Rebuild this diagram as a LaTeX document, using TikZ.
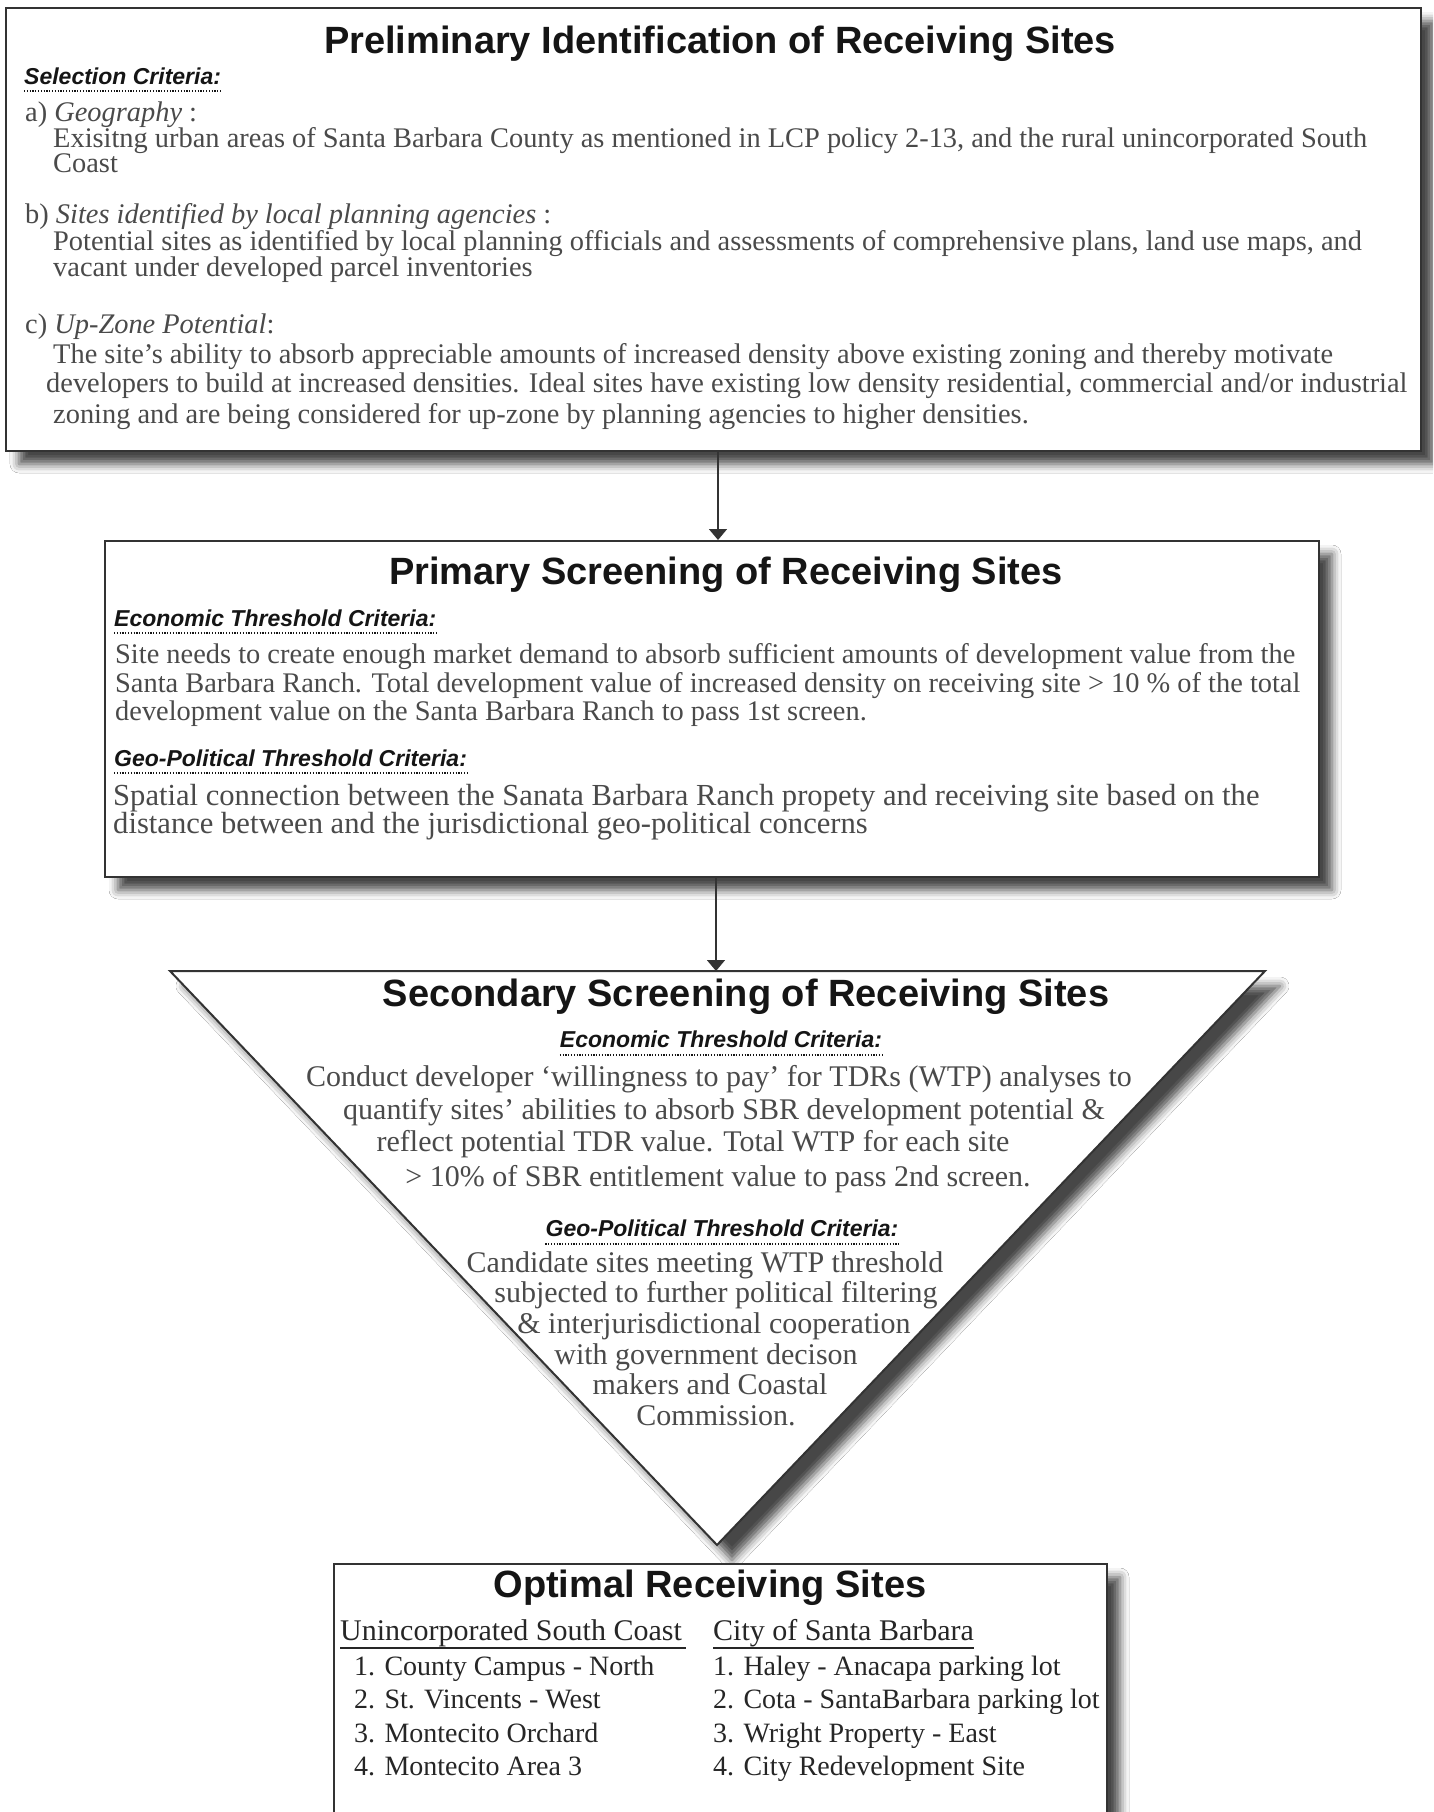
\documentclass[tikz,border=0pt]{standalone}
\usepackage{fontspec}
\setmainfont{Liberation Serif}
\setsansfont{Liberation Sans}
\usetikzlibrary{arrows.meta,shadows.blur}
\definecolor{bodygray}{HTML}{4A4A4A}
\definecolor{darktext}{HTML}{262626}
\definecolor{edgecol}{HTML}{333333}
\definecolor{ink}{HTML}{151515}
\tikzset{
  sbox/.style={draw=edgecol, line width=2pt, fill=white, inner sep=0pt, anchor=north west,
    blur shadow={shadow xshift=13pt, shadow yshift=-13pt, shadow blur radius=9pt, shadow opacity=72}},
  ttl/.style={font=\fontsize{38}{38}\selectfont\sffamily\bfseries, text=ink, inner sep=0pt, anchor=base},
  crit/.style={font=\fontsize{23}{23}\selectfont\sffamily\bfseries\itshape, text=ink, inner sep=0pt, anchor=base west},
  crit c/.style={crit, anchor=base},
  body/.style={font=\fontsize{28.4}{28}\selectfont, text=bodygray, inner sep=0pt, anchor=base west},
  body big/.style={body, font=\fontsize{30.6}{30}\selectfont},
  tri/.style={font=\fontsize{30}{30}\selectfont, text=bodygray, inner sep=0pt, anchor=base},
  opt/.style={font=\fontsize{28}{28}\selectfont, text=darktext, inner sep=0pt, anchor=base west},
  opthead/.style={font=\fontsize{30}{30}\selectfont, text=darktext, inner sep=0pt, anchor=base west},
  dotline/.style={draw=ink, line width=1.3pt, dash pattern=on 1.2pt off 1.6pt},
  uline/.style={draw=darktext, line width=2pt},
  flow/.style={draw=edgecol, line width=1.6pt, -{Triangle[width=18pt,length=11pt]}}
}
\begin{document}
\begin{tikzpicture}[x=1pt,y=-1pt]
\useasboundingbox (0,0) rectangle (1433,1812);
\clip (0,0) rectangle (1433,1812);
\fill[white] (0,0) rectangle (1433,1812);

% ---------- Box 1 ----------
\node[sbox, minimum width=1415pt, minimum height=443pt] (box1) at (5,7) {};
\node[ttl] (p_title) at (720,53) {Preliminary Identification of Receiving Sites};
\node[crit] (p_sel) at (24,84) {Selection Criteria:};
\draw[dotline] ([yshift=-7pt]p_sel.base west) -- ([yshift=-7pt]p_sel.base east);
\node[body] (p_a) at (25,121) {a) \textit{Geography} :};
\node[body] (p_a1) at (53,147) {Exisitng urban areas of Santa Barbara County as mentioned in LCP policy 2-13, and the rural unincorporated South};
\node[body] (p_a2) at (53,172) {Coast};
\node[body] (p_b) at (25,223) {b) \textit{Sites identified by local planning agencies} :};
\node[body] (p_b1) at (53,250) {Potential sites as identified by local planning officials and assessments of comprehensive plans, land use maps, and};
\node[body] (p_b2) at (53,276) {vacant under developed parcel inventories};
\node[body] (p_c) at (25,333) {c) \textit{Up-Zone Potential}:};
\node[body] (p_c1) at (53,363) {The site’s ability to absorb appreciable amounts of increased density above existing zoning and thereby motivate};
\node[body] (p_c2) at (46,392) {developers to build at increased densities. Ideal sites have existing low density residential, commercial and/or industrial};
\node[body] (p_c3) at (53,423) {zoning and are being considered for up-zone by planning agencies to higher densities.};

% ---------- Box 2 ----------
\node[sbox, minimum width=1214pt, minimum height=336pt] (box2) at (104,540) {};
\node[ttl] (s_title) at (726,584) {Primary Screening of Receiving Sites};
\node[crit] (s_eco) at (114,626) {Economic Threshold Criteria:};
\draw[dotline] ([yshift=-7pt]s_eco.base west) -- ([yshift=-7pt]s_eco.base east);
\node[body] (s_e1) at (115,663) {Site needs to create enough market demand to absorb sufficient amounts of development value from the};
\node[body] (s_e2) at (115,692) {Santa Barbara Ranch. Total development value of increased density on receiving site > 10 \% of the total};
\node[body] (s_e3) at (115,720) {development value on the Santa Barbara Ranch to pass 1st screen.};
\node[crit] (s_geo) at (114,766) {Geo-Political Threshold Criteria:};
\draw[dotline] ([yshift=-7pt]s_geo.base west) -- ([yshift=-7pt]s_geo.base east);
\node[body big] (s_g1) at (113,805) {Spatial connection between the Sanata Barbara Ranch propety and receiving site based on the};
\node[body big] (s_g2) at (113,833) {distance between and the jurisdictional geo-political concerns};

% ---------- Triangle ----------
\coordinate (tl) at (170,971);
\coordinate (tr) at (1265,971);
\coordinate (tb) at (717,1545);
\path[draw=edgecol, line width=2pt, fill=white, line join=miter,
  blur shadow={shadow xshift=15pt, shadow yshift=-15pt, shadow blur radius=9pt, shadow opacity=72}]
  (tl) -- (tr) -- (tb) -- cycle;
\node[ttl] (t_title) at (746,1006) {Secondary Screening of Receiving Sites};
\node[crit c] (t_eco) at (721,1047) {Economic Threshold Criteria:};
\draw[dotline] ([yshift=-8pt]t_eco.base west) -- ([yshift=-8pt]t_eco.base east);
\node[tri] (t_e1) at (719,1086) {Conduct developer ‘willingness to pay’ for TDRs (WTP) analyses to};
\node[tri] (t_e2) at (724,1119) {quantify sites’ abilities to absorb SBR development potential \&};
\node[tri] (t_e3) at (693,1151) {reflect potential TDR value. Total WTP for each site};
\node[tri] (t_e4) at (718,1186) {> 10\% of SBR entitlement value to pass 2nd screen.};
\node[crit c] (t_geo) at (722,1236) {Geo-Political Threshold Criteria:};
\draw[dotline] ([yshift=-8pt]t_geo.base west) -- ([yshift=-8pt]t_geo.base east);
\node[tri] (t_g1) at (705,1272) {Candidate sites meeting WTP threshold};
\node[tri] (t_g2) at (716,1302) {subjected to further political filtering};
\node[tri] (t_g3) at (714,1333) {\& interjurisdictional cooperation};
\node[tri] (t_g4) at (706,1364) {with government decison};
\node[tri] (t_g5) at (710,1394) {makers and Coastal};
\node[tri] (t_g6) at (716,1425) {Commission.};

% ---------- Box 4 ----------
\node[sbox, minimum width=773pt, minimum height=290pt] (box4) at (333,1563) {};
\node[ttl] (o_title) at (710,1597) {Optimal Receiving Sites};
\node[opthead] (o_h1) at (340,1640) {Unincorporated South Coast};
\draw[uline] ([yshift=-8pt]o_h1.base west) -- ([yshift=-8pt,xshift=4pt]o_h1.base east);
\node[opthead] (o_h2) at (713,1640) {City of Santa Barbara};
\draw[uline] ([yshift=-8pt]o_h2.base west) -- ([yshift=-8pt]o_h2.base east);
\node[opt] (o_l1) at (354,1675) {1. County Campus - North};
\node[opt] (o_l2) at (354,1708) {2. St. Vincents - West};
\node[opt] (o_l3) at (354,1742) {3. Montecito Orchard};
\node[opt] (o_l4) at (354,1775) {4. Montecito Area 3};
\node[opt] (o_r1) at (713,1675) {1. Haley - Anacapa parking lot};
\node[opt] (o_r2) at (713,1708) {2. Cota - SantaBarbara parking lot};
\node[opt] (o_r3) at (713,1742) {3. Wright Property - East};
\node[opt] (o_r4) at (713,1775) {4. City Redevelopment Site};

% ---------- Connectors ----------
\coordinate (ax1) at (718,0);
\coordinate (ax2) at (716,0);
\coordinate (tritop) at (716,971);
\draw[flow] (box1.south -| ax1) -- (box2.north -| ax1);
\draw[flow] (box2.south -| ax2) -- (tritop);
\end{tikzpicture}
\end{document}
